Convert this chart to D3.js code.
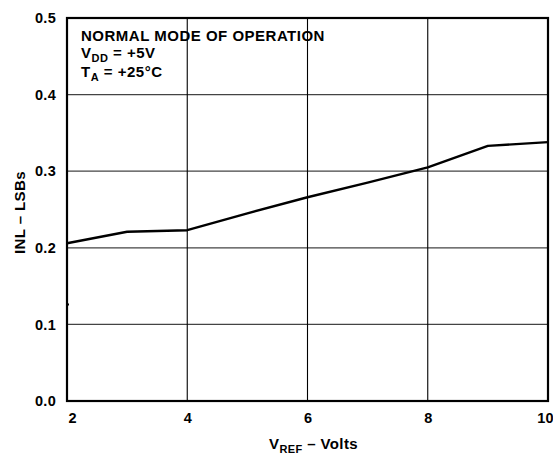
<!DOCTYPE html>
<html>
<head>
<meta charset="utf-8">
<script src="https://cdn.jsdelivr.net/npm/d3@7"></script>
<style>
  body { margin: 0; background: #fff; }
  text { font-family: "Liberation Sans", Arial, sans-serif; font-weight: bold; fill: #000; }
</style>
</head>
<body>
<div id="chart"></div>
<script>
var width = 553,
    height = 454,
    margin = {top: 18, right: 5, bottom: 53, left: 67};

// V_REF (volts) vs INL (LSBs)
var vref = [2, 3, 4, 5, 6, 7, 8, 9, 10];
var inl = [0.206, 0.221, 0.223, 0.245, 0.266, 0.285, 0.305, 0.333, 0.338];
var xTicks = [2, 4, 6, 8, 10];
var yTicks = [0, 0.1, 0.2, 0.3, 0.4, 0.5];
// stray mark on the left edge of the original plot
var stray = [[2, 0.126]];

var x = d3.scaleLinear().domain([2, 10]).range([margin.left, width - margin.right]),
    y = d3.scaleLinear().domain([0, 0.5]).range([height - margin.bottom, margin.top]);

var svg = d3.select("#chart").append("svg")
    .attr("width", width)
    .attr("height", height);

// grid
svg.append("g")
    .selectAll("line")
    .data(yTicks.slice(1, -1))
  .enter().append("line")
    .attr("x1", x(2)).attr("x2", x(10))
    .attr("y1", function(d) { return y(d); })
    .attr("y2", function(d) { return y(d); })
    .attr("stroke", "#444")
    .attr("stroke-width", 1.3);

svg.append("g")
    .selectAll("line")
    .data(xTicks.slice(1, -1))
  .enter().append("line")
    .attr("y1", y(0)).attr("y2", y(0.5))
    .attr("x1", function(d) { return x(d); })
    .attr("x2", function(d) { return x(d); })
    .attr("stroke", "#000")
    .attr("stroke-width", 1.1);

// frame
svg.append("rect")
    .attr("x", x(2)).attr("y", y(0.5))
    .attr("width", x(10) - x(2))
    .attr("height", y(0) - y(0.5))
    .attr("fill", "none")
    .attr("stroke", "#000")
    .attr("stroke-width", 2.2);

// curve
var line = d3.line()
    .x(function(d, i) { return x(vref[i]); })
    .y(function(d) { return y(d); });

svg.append("path")
    .datum(inl)
    .attr("d", line)
    .attr("fill", "none")
    .attr("stroke", "#000")
    .attr("stroke-width", 2.4)
    .attr("stroke-linejoin", "round");

svg.selectAll(".stray")
    .data(stray)
  .enter().append("rect")
    .attr("class", "stray")
    .attr("x", function(d) { return x(d[0]); })
    .attr("y", function(d) { return y(d[1]) - 1; })
    .attr("width", 2).attr("height", 2)
    .attr("fill", "#000");

// axes labels
var yAxis = d3.axisLeft(y).tickValues(yTicks).tickFormat(d3.format(".1f")).tickSize(0).tickPadding(11);
svg.append("g")
    .attr("transform", "translate(" + x(2) + ",0)")
    .call(yAxis)
    .call(function(g) { g.select(".domain").remove(); })
    .selectAll("text")
    .style("font-size", "14.5px")
    .style("letter-spacing", "0.3px")
    .attr("fill", "#000");

var xAxis = d3.axisBottom(x).tickValues(xTicks).tickFormat(d3.format("d")).tickSize(0).tickPadding(12);
svg.append("g")
    .attr("transform", "translate(0," + y(0) + ")")
    .call(xAxis)
    .call(function(g) { g.select(".domain").remove(); })
    .selectAll("text")
    .style("font-size", "14.5px")
    .attr("fill", "#000")
    .attr("text-anchor", function(d) { return d == 2 ? "start" : d == 10 ? "end" : "middle"; })
    .attr("dx", function(d) { return d == 2 ? 1 : d == 10 ? 5 : 0; });

svg.append("text")
    .attr("transform", "translate(25," + ((y(0) + y(0.5)) / 2 + 3) + ")rotate(-90)")
    .attr("text-anchor", "middle")
    .style("font-size", "15px")
    .style("letter-spacing", "0.4px")
    .text("INL \u2013 LSBs");

var xl = svg.append("text")
    .attr("x", (x(2) + x(10)) / 2 + 6)
    .attr("y", 449)
    .attr("text-anchor", "middle")
    .style("font-size", "15px")
    .style("letter-spacing", "0.4px");
xl.append("tspan").text("V");
xl.append("tspan").attr("dy", 4).style("font-size", "11px").text("REF");
xl.append("tspan").attr("dy", -4).text(" \u2013 Volts");

// conditions box text
var note = svg.append("g").attr("transform", "translate(81,0)")
    .style("font-size", "15px")
    .style("letter-spacing", "0.5px");
note.append("text").attr("y", 41).text("NORMAL MODE OF OPERATION");
var v = note.append("text").attr("y", 58);
v.append("tspan").text("V");
v.append("tspan").attr("dy", 4).style("font-size", "11px").text("DD");
v.append("tspan").attr("dy", -4).text(" = +5V");
var t = note.append("text").attr("y", 77);
t.append("tspan").text("T");
t.append("tspan").attr("dy", 4).style("font-size", "11px").text("A");
t.append("tspan").attr("dy", -4).text(" = +25\u00b0C");
</script>
</body>
</html>
